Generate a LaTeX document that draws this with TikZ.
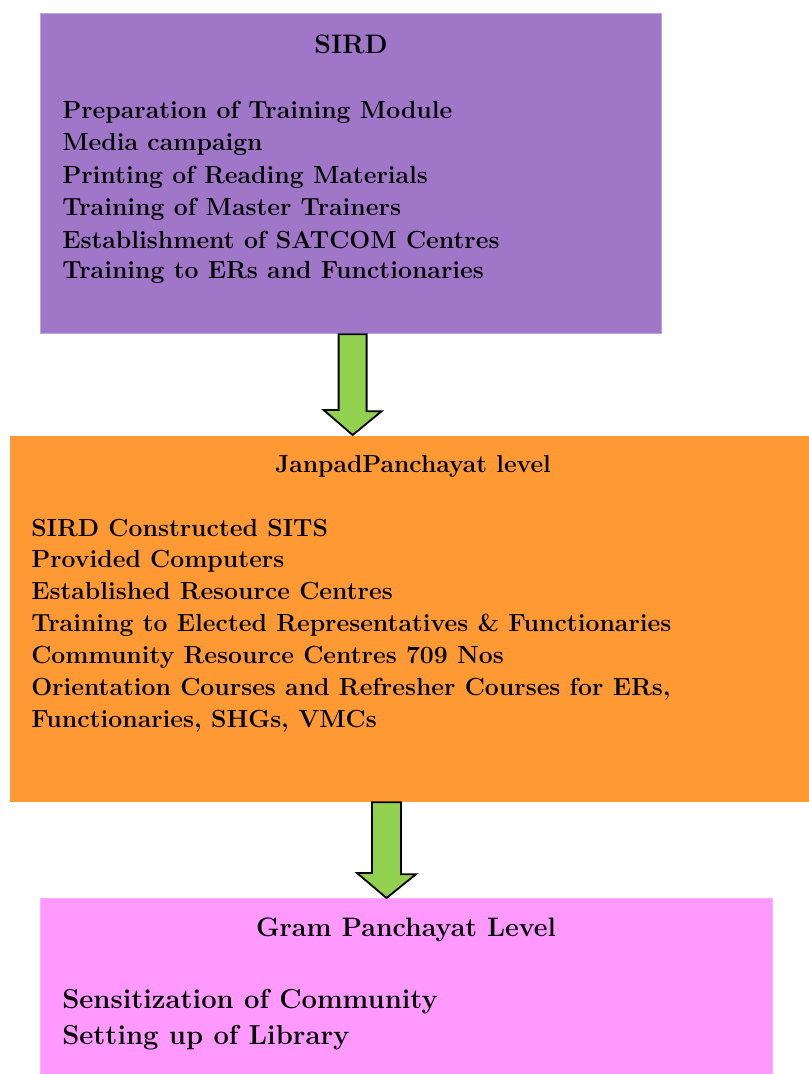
\documentclass[tikz,border=0pt]{standalone}
\usepackage{tikz}
\usetikzlibrary{positioning, calc}
\definecolor{sirdpurple}{HTML}{A076C8}
\definecolor{sirdedge}{HTML}{B4A8DC}
\definecolor{janpadorange}{HTML}{FF9933}
\definecolor{grampink}{HTML}{FF99FF}
\definecolor{arrowgreen}{HTML}{92D050}
\tikzset{
	levelbox/.style={
			shape=rectangle,
			anchor=north west,
			inner sep=0pt,
			line width=0.8pt
		},
	titletext/.style={
			anchor=base,
			inner sep=0pt,
			font=\fontsize{19}{22}\selectfont\bfseries
		},
	itemtext/.style={
			anchor=base west,
			inner sep=0pt,
			font=\fontsize{17.6}{21}\selectfont\bfseries
		},
	blockarrow/.style={
			draw=black,
			fill=arrowgreen,
			line width=1.3pt,
			line join=miter
		}
}

\begin{document}
\begin{tikzpicture}[x=0.025cm, y=-0.025cm]

				\useasboundingbox (0,0) rectangle (809,1074);

				\node[levelbox, fill=sirdpurple, draw=sirdedge, minimum width=15.525cm, minimum height=8cm] (sird) at (40,13) {};
				\node[levelbox, fill=janpadorange, minimum width=20cm, minimum height=9.15cm] (janpad) at (9,435) {};
				\node[levelbox, fill=grampink, draw=grampink!80!white, minimum width=18.3cm, minimum height=4.4cm] (gram) at (40,898) {};

				\node[titletext] (sirdtitle) at (351,53) {SIRD};
				\node[itemtext] (s1) at (62,118) {Preparation of Training Module};
				\node[itemtext] (s2) at (62,150) {Media campaign};
				\node[itemtext] (s3) at (62,183) {Printing of Reading Materials};
				\node[itemtext] (s4) at (62,215) {Training of Master Trainers};
				\node[itemtext] (s5) at (62,248) {Establishment of SATCOM Centres};
				\node[itemtext] (s6) at (62,278) {Training to ERs and Functionaries};

				\node[titletext, font=\fontsize{17.5}{20}\selectfont\bfseries] (janpadtitle) at (413,472) {JanpadPanchayat level};
				\node[itemtext] (j1) at (31,536) {SIRD Constructed SITS};
				\node[itemtext] (j2) at (31,567) {Provided Computers};
				\node[itemtext] (j3) at (31,599) {Established Resource Centres};
				\node[itemtext] (j4) at (31,631) {Training to Elected Representatives \& Functionaries};
				\node[itemtext] (j5) at (31,663) {Community Resource Centres 709 Nos};
				\node[itemtext] (j6) at (31,695) {Orientation Courses and Refresher Courses for ERs,};
				\node[itemtext] (j7) at (31,727) {Functionaries, SHGs, VMCs};

				\node[titletext] (gramtitle) at (406,936) {Gram Panchayat Level};
				\node[itemtext, font=\fontsize{19.5}{23}\selectfont\bfseries] (g1) at (62,1008) {Sensitization of Community};
				\node[itemtext, font=\fontsize{19.5}{23}\selectfont\bfseries] (g2) at (62,1044) {Setting up of Library};

				\coordinate (arrowone) at ($(sird.south)+(1.5,0)$);
				\coordinate (arrowtwo) at (arrowone -| 386.5,0);
				\coordinate (arrowtwo) at (arrowtwo |- janpad.south);

				\draw[blockarrow] (arrowone) ++(-14,0) -- ++(28,0) -- ++(0,77) -- ++(15,0)
					-- (arrowone |- janpad.north) -- ++(-29,-25) -- ++(15,0) -- cycle;
				\draw[blockarrow] (arrowtwo) ++(-14.5,0) -- ++(29,0) -- ++(0,72) -- ++(15,0)
					-- (arrowtwo |- gram.north) -- ++(-29.5,-25) -- ++(15,0) -- cycle;

			\end{tikzpicture}
\end{document}
